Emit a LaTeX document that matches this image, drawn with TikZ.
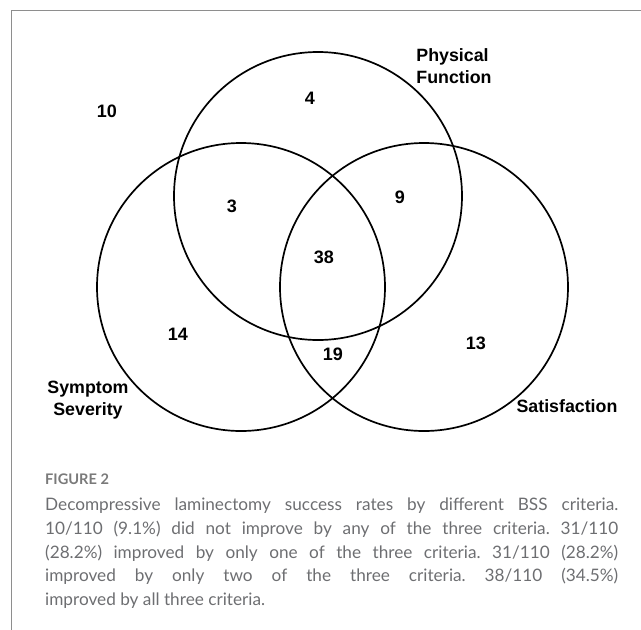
\documentclass[tikz,border=0pt]{standalone}
\usepackage{fontspec}
\setmainfont{Liberation Sans}
\newfontfamily\capfont{Lato}
\usetikzlibrary{positioning}
\definecolor{framegray}{HTML}{8E8E8E}
\definecolor{capgray}{HTML}{6D6E71}
\definecolor{figgray}{HTML}{7A7A7A}
\tikzstyle{setcircle} = [draw, circle, minimum size=288pt, inner sep=0pt, line width=1.7pt]
\tikzstyle{count} = [font=\fontsize{18}{20}\selectfont\bfseries, inner sep=0pt]
\tikzstyle{setname} = [font=\fontsize{17.8}{22}\selectfont\bfseries, inner sep=0pt]
\tikzstyle{captext} = [font=\fontsize{17.2}{23.6}\selectfont\capfont, text=capgray, inner sep=0pt]

\begin{document}
\begin{tikzpicture}[x=1pt, y=-1pt]
    \useasboundingbox (0,0) rectangle (641,630);

    % Frame
    \draw [framegray, line width=1pt] (11,630) -- (11,10.5) -- (641,10.5);

    % Sets
    \node (phys) [setcircle] at (318,196) {};
    \node (sev) [setcircle] at (241,287) {};
    \node (sat) [setcircle] at (424,287) {};

    % Set names
    \node (physname) [setname, align=left] at (454,66) {Physical\\Function};
    \node (sevname) [setname, align=center] at (88,400) {Symptom\\Severity};
    \node (satname) [setname] at (567,406) {Satisfaction};

    % Counts
    \node (none) [count] at (107,111) {10};
    \node (physonly) [count] at (310,98) {4};
    \node (physsev) [count] at (232,206) {3};
    \node (physsat) [count] at (400,197) {9};
    \node (all) [count] at (324,257) {38};
    \node (sevonly) [count] at (178,334) {14};
    \node (sevsat) [count] at (333,354) {19};
    \node (satonly) [count] at (476,343) {13};

    % Caption
    \node (figlabel) [font=\fontsize{14.6}{16}\selectfont\capfont\bfseries, text=figgray, inner sep=0pt, anchor=west] at (45,479) {FIGURE 2};
    \node (caption) [captext, text width=573pt, align=justify, anchor=north west] at (45,498) {\frenchspacing\tolerance=10000\hyphenpenalty=10000
        Decompressive laminectomy success rates by different BSS criteria.\linebreak
        10/110 (9.1\%) did not improve by any of the three criteria. 31/110\linebreak
        (28.2\%) improved by only one of the three criteria. 31/110 (28.2\%)\linebreak
        improved by only two of the three criteria. 38/110 (34.5\%)\linebreak
        improved by all three criteria.};

\end{tikzpicture}
\end{document}
